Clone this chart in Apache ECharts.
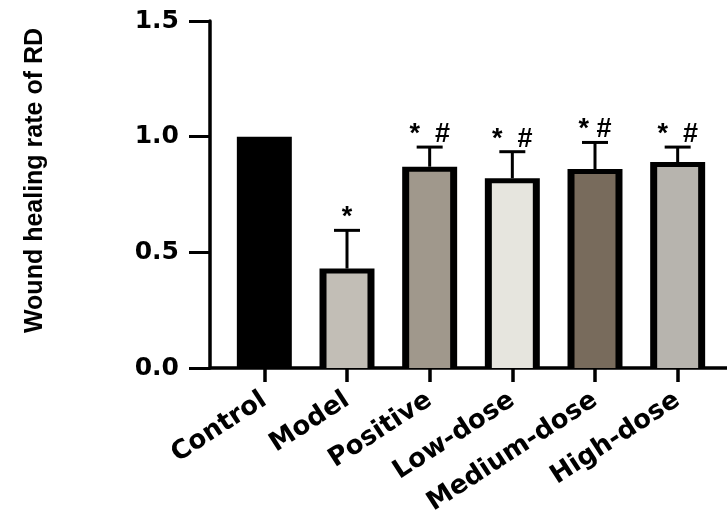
<!DOCTYPE html>
<html>
<head>
<meta charset="utf-8">
<script src="https://cdn.jsdelivr.net/npm/echarts@6/dist/echarts.min.js"></script>
<style>html,body{margin:0;padding:0;background:#fff;}#c{width:727px;height:526px;}</style>
</head>
<body>
<div id="c"></div>
<script>
const categories = ['Control', 'Model', 'Positive', 'Low-dose', 'Medium-dose', 'High-dose'];
const means = [1.00, 0.43, 0.87, 0.82, 0.86, 0.89];
const sds = [0, 0.165, 0.085, 0.115, 0.115, 0.065];
const signif = ['', '*', '*  #', '*  #', '* #', '*  #'];
const yTicks = [0, 0.5, 1.0, 1.5];
const yTitle = 'Wound healing rate of RD';

const fills = ['#000000', '#c2beb6', '#a0988c', '#e6e5de', '#786b5c', '#b7b4ae'];

const chart = echarts.init(document.getElementById('c'), null, {renderer: 'canvas'});

function renderItem(params, api) {
  const i = api.value(0), v = api.value(1), sd = api.value(2);
  const base = api.coord([i, 0]);
  const top = api.coord([i, v]);
  const errTop = api.coord([i, v + sd]);
  const band = api.size([1, 0])[0];
  const w = band * 0.665;
  const cx = base[0];
  const x0 = cx - w / 2;
  const h = base[1] - top[1];
  const children = [
    {type: 'rect', shape: {x: x0, y: top[1], width: w, height: h}, style: {fill: '#000'}},
    {type: 'rect', shape: {x: x0 + 7, y: top[1] + 5, width: w - 14, height: h - 5}, style: {fill: fills[i]}}
  ];
  let labelY = top[1];
  if (sd > 0) {
    children.push({type: 'line', shape: {x1: cx, y1: top[1], x2: cx, y2: errTop[1]}, style: {stroke: '#000', lineWidth: 3}});
    children.push({type: 'line', shape: {x1: cx - 13, y1: errTop[1], x2: cx + 13, y2: errTop[1]}, style: {stroke: '#000', lineWidth: 3}});
    labelY = errTop[1];
  }
  if (signif[i]) {
    children.push({type: 'text', style: {text: signif[i], x: cx, y: labelY + 1, align: 'center', verticalAlign: 'bottom',
      fill: '#000', font: 'bold 27px "Liberation Sans", Arial, sans-serif'}});
  }
  return {type: 'group', children: children};
}

chart.setOption({
  animation: false,
  backgroundColor: '#fff',
  grid: [
    {left: 210, right: 0, top: 21, bottom: 158},
    {left: 223, right: 8, top: 21, bottom: 158}
  ],
  xAxis: [
    {type: 'value', gridIndex: 0, min: 0, max: 1, axisLine: {show: true, lineStyle: {color: '#000', width: 3.5}},
     axisTick: {show: false}, axisLabel: {show: false}, splitLine: {show: false}},
    {type: 'category', gridIndex: 1, data: categories, axisLine: {show: false},
     axisTick: {show: true, alignWithLabel: true, length: 14, lineStyle: {color: '#000', width: 3.5}},
     axisLabel: {interval: 0, rotate: 33, margin: 30, color: '#000', fontSize: 26, fontWeight: 'bold', fontFamily: 'DejaVu Sans'},
     splitLine: {show: false}}
  ],
  yAxis: [
    {type: 'value', gridIndex: 0, min: yTicks[0], max: yTicks[yTicks.length - 1], interval: 0.5,
     name: yTitle, nameLocation: 'middle', nameRotate: 90, nameGap: 162,
     nameTextStyle: {color: '#000', fontSize: 25, fontWeight: 'bold', fontFamily: 'Liberation Sans', padding: [0, 0, 0, 28]},
     axisLine: {show: true, lineStyle: {color: '#000', width: 3.5}},
     axisTick: {show: true, length: 21, lineStyle: {color: '#000', width: 3}},
     axisLabel: {margin: 31, color: '#000', fontSize: 25, fontWeight: 'bold', fontFamily: 'DejaVu Sans',
       formatter: v => v.toFixed(1)},
     splitLine: {show: false}},
    {type: 'value', gridIndex: 1, min: yTicks[0], max: yTicks[yTicks.length - 1], interval: 0.5, show: false}
  ],
  series: [{
    type: 'custom',
    xAxisIndex: 1, yAxisIndex: 1,
    renderItem: renderItem,
    encode: {x: 0, y: 1},
    data: categories.map((c, i) => [i, means[i], sds[i]]),
    z: 5
  }]
});
</script>
</body>
</html>
